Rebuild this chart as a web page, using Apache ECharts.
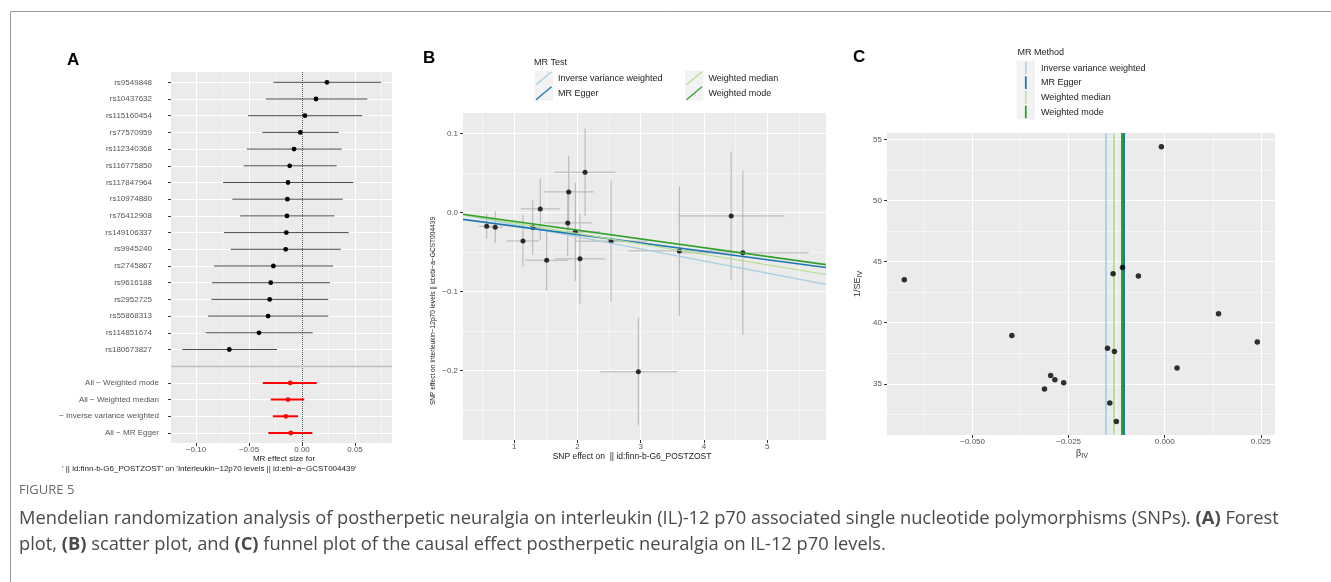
<!DOCTYPE html>
<html><head><meta charset="utf-8">
<script src="https://cdn.jsdelivr.net/npm/echarts@6/dist/echarts.min.js"></script>
<style>html,body{margin:0;padding:0;background:#fff}#c{width:1331px;height:582px}</style>
</head><body><div id="c"></div>
<script>
// ---------- Panel A: forest plot ----------
const snpNames = ['rs9549848','rs10437632','rs115160454','rs77570959','rs112340368','rs116775850','rs117847964','rs10974880','rs76412908','rs149106337','rs9945240','rs2745867','rs9616188','rs2952725','rs55868313','rs114851674','rs180673827'];
const snpEst = [0.0236,0.0132,0.0028,-0.0016,-0.0075,-0.0116,-0.0132,-0.0138,-0.0142,-0.0148,-0.0154,-0.0270,-0.0295,-0.0305,-0.0320,-0.0406,-0.0686];
const snpLo  = [-0.0270,-0.0340,-0.0510,-0.0374,-0.0520,-0.0550,-0.0745,-0.0657,-0.0582,-0.0736,-0.0673,-0.0830,-0.0849,-0.0855,-0.0887,-0.0909,-0.1130];
const snpHi  = [0.0745,0.0616,0.0569,0.0346,0.0374,0.0327,0.0484,0.0384,0.0305,0.0440,0.0365,0.0292,0.0264,0.0248,0.0248,0.0101,-0.0236];
const methodNames = ['All − Weighted mode','All − Weighted median','− Inverse variance weighted','All − MR Egger'];
const methodEst = [-0.0111,-0.0132,-0.0153,-0.0106];
const methodLo  = [-0.0370,-0.0295,-0.0276,-0.0318];
const methodHi  = [0.0139,0.0022,-0.0038,0.0097];
const eggerIntercept = -0.0065;
const aXTicks = [-0.10,-0.05,0.00,0.05];

// ---------- Panel B: scatter plot ----------
const bX    = [0.564,0.70,1.138,1.292,1.412,1.513,1.862,1.846,1.966,2.04,2.12,2.531,3.612,4.431,4.616,2.963];
const bY    = [-0.0172,-0.0185,-0.0358,-0.0188,0.0047,-0.0602,0.0262,-0.0130,-0.0244,-0.0585,0.0511,-0.0361,-0.0484,-0.0042,-0.0509,-0.2013];
const bXSe  = [0.12,0.12,0.258,0.18,0.31,0.34,0.395,0.38,0.39,0.39,0.48,0.57,0.805,0.845,1.04,0.612];
const bYSe  = [0.0158,0.020,0.0329,0.034,0.0389,0.0388,0.0457,0.0421,0.062,0.0577,0.0552,0.0765,0.082,0.0814,0.1037,0.0681];
const bXTicks = [1,2,3,4,5];
const bYTicks = [-0.2,-0.1,0.0,0.1];

// ---------- Panel C: funnel plot ----------
const cBeta  = [-0.0678,-0.01345,-0.0110,-0.00686,-0.00087,-0.0398,-0.0297,-0.0286,-0.0263,-0.0313,-0.0149,-0.0131,-0.0143,-0.0126,0.0032,0.0140,0.0241];
const cInvSE = [43.52,44.02,44.53,43.83,54.43,38.96,35.68,35.33,35.08,34.56,37.90,37.65,33.42,31.91,36.29,40.74,38.42];
const cXTicks = [-0.050,-0.025,0.000,0.025];
const cYTicks = [35,40,45,50,55];

const methodKeys = ['Inverse variance weighted','MR Egger','Weighted median','Weighted mode'];
const methodColors = {'Inverse variance weighted':'#A6CEE3','MR Egger':'#1F78B4','Weighted median':'#B2DF8A','Weighted mode':'#33A02C'};
const slopeOf = {'Inverse variance weighted':methodEst[2],'MR Egger':methodEst[3],'Weighted median':methodEst[1],'Weighted mode':methodEst[0]};
const interceptOf = {'Inverse variance weighted':0,'MR Egger':eggerIntercept,'Weighted median':0,'Weighted mode':0};

const SANS = '"Liberation Sans", Arial, Helvetica, sans-serif';
const CAP = '"Open Sans", "Noto Sans", sans-serif';
const minus = s => s.replace('-', '\u2212');
function tickFmt(ticks, f) {
  return function (v) {
    for (const t of ticks) { if (Math.abs(t - v) < 1e-6) return f(t); }
    return '';
  };
}
const labStyle = {fontSize: 8, color: '#555', fontFamily: SANS};
function valAxis(ticks, o) {
  return Object.assign({
    type: 'value',
    axisLine: {show: false, onZero: false},
    axisTick: {show: true, length: 3, customValues: ticks, lineStyle: {color: '#333', width: 1}},
    splitLine: {show: true, lineStyle: {color: '#FFFFFF', width: 1}},
    minorTick: {show: false, splitNumber: 2},
    minorSplitLine: {show: true, lineStyle: {color: '#FFFFFF', width: 0.5}},
  }, o);
}

const forestData = [];
const aRows = [];
snpNames.forEach((n, i) => { forestData.push([i, snpLo[i], snpEst[i], snpHi[i], 0]); aRows.push(i); });
methodNames.forEach((n, j) => { forestData.push([snpNames.length + 1 + j, methodLo[j], methodEst[j], methodHi[j], 1]); aRows.push(snpNames.length + 1 + j); });

const bErr = bX.map((x, i) => [x, bY[i], x - bXSe[i], x + bXSe[i], bY[i] - bYSe[i], bY[i] + bYSe[i]]);

const B_XMIN = 0.19, B_XMAX = 5.93;
const bLines = methodKeys.map(k => ({
  type: 'line', xAxisIndex: 1, yAxisIndex: 1, name: k, symbol: 'none', silent: true, clip: true, z: 6,
  lineStyle: {color: methodColors[k], width: (k === 'MR Egger' || k === 'Weighted mode') ? 1.6 : 1.2},
  data: [[B_XMIN, interceptOf[k] + slopeOf[k] * B_XMIN], [B_XMAX, interceptOf[k] + slopeOf[k] * B_XMAX]]
}));

function txt(x, y, text, o) {
  o = o || {};
  const st = {text, fill: o.color || '#222', fontSize: o.size || 9, fontFamily: o.family || SANS,
    fontWeight: o.weight || 'normal', align: o.align || 'left', verticalAlign: o.va || 'middle',
    textAlign: o.align || 'left', textVerticalAlign: o.va || 'middle'};
  if (o.rich) st.rich = o.rich;
  return {type: 'text', x, y, rotation: o.rot || 0, silent: true, z: 100, style: st};
}

const graphics = [];
graphics.push({type: 'polyline', silent: true, shape: {points: [[1340, 11.5], [10.5, 11.5], [10.5, 590]]}, style: {stroke: '#9a9a9a', lineWidth: 1, fill: null}});
graphics.push(txt(67, 60, 'A', {size: 17, weight: 'bold', color: '#000'}));
graphics.push(txt(423, 58.5, 'B', {size: 17, weight: 'bold', color: '#000'}));
graphics.push(txt(853, 57, 'C', {size: 17, weight: 'bold', color: '#000'}));
graphics.push(txt(284, 459, 'MR effect size for', {size: 8, align: 'center', color: '#222'}));
graphics.push(txt(62, 469, "' || id:finn-b-G6_POSTZOST' on 'Interleukin\u221212p70 levels || id:ebi\u2212a\u2212GCST004439'", {size: 8, color: '#222'}));
graphics.push(txt(632, 457, 'SNP effect on  || id:finn-b-G6_POSTZOST', {size: 8.5, align: 'center', color: '#222'}));
graphics.push(txt(433, 311, 'SNP effect on Interleukin\u221212p70 levels || id:ebi\u2212a\u2212GCST004439', {size: 6.6, align: 'center', rot: Math.PI / 2, color: '#222'}));
graphics.push(txt(1082, 454, '\u03b2{s|IV}', {size: 9, align: 'center', color: '#333', rich: {s: {fontSize: 7, fontFamily: SANS, fill: '#333', padding: [5, 0, 0, 0]}}}));
graphics.push(txt(858, 284, '1/SE{s|IV}', {size: 9, align: 'center', rot: Math.PI / 2, color: '#333', rich: {s: {fontSize: 7, fontFamily: SANS, fill: '#333', padding: [5, 0, 0, 0]}}}));

graphics.push(txt(534, 63, 'MR Test', {size: 9, color: '#222'}));
const bLegPos = [[534.5, 70.7], [534.5, 85.7], [685, 70.7], [685, 85.7]];
const bLegOrder = ['Inverse variance weighted', 'MR Egger', 'Weighted median', 'Weighted mode'];
bLegOrder.forEach((k, i) => {
  const [x, y] = bLegPos[i];
  graphics.push({type: 'rect', silent: true, shape: {x, y, width: 18.5, height: 15}, style: {fill: '#F2F2F2'}});
  graphics.push({type: 'line', silent: true, shape: {x1: x + 1.5, y1: y + 14, x2: x + 17, y2: y + 1}, style: {stroke: methodColors[k], lineWidth: 1.3}});
  graphics.push(txt(x + 23.5, y + 7.8, k, {size: 9, color: '#222'}));
});
graphics.push(txt(1017.5, 53, 'MR Method', {size: 9, color: '#222'}));
methodKeys.forEach((k, i) => {
  const y = 60.7 + i * 14.65;
  graphics.push({type: 'rect', silent: true, shape: {x: 1016.7, y, width: 18.3, height: 14.65}, style: {fill: '#F2F2F2'}});
  graphics.push({type: 'line', silent: true, shape: {x1: 1025.8, y1: y + 1, x2: 1025.8, y2: y + 13.6}, style: {stroke: methodColors[k], lineWidth: (k === 'MR Egger' || k === 'Weighted mode') ? 1.8 : 1.4}});
  graphics.push(txt(1041, y + 7.5, k, {size: 9, color: '#222'}));
});

graphics.push(txt(19, 490, 'FIGURE 5', {size: 13, family: CAP, color: '#6a6a6a'}));
const capRich = {b: {fontWeight: 'bold', fontSize: 18.3, fontFamily: CAP, fill: '#4a4a4a'}};
graphics.push(txt(19, 519, 'Mendelian randomization analysis of postherpetic neuralgia on interleukin (IL)-12 p70 associated single nucleotide polymorphisms (SNPs). {b|(A)} Forest', {size: 18.3, family: CAP, color: '#4a4a4a', rich: capRich}));
graphics.push(txt(19, 545, 'plot, {b|(B)} scatter plot, and {b|(C)} funnel plot of the causal effect postherpetic neuralgia on IL-12 p70 levels.', {size: 18.3, family: CAP, color: '#4a4a4a', rich: capRich}));

const gridBase = {show: true, backgroundColor: '#EBEBEB', borderWidth: 0, containLabel: false};

const option = {
  animation: false,
  backgroundColor: '#FFFFFF',
  textStyle: {fontFamily: SANS},
  grid: [
    Object.assign({left: 171, top: 72, width: 221, height: 371}, gridBase),
    Object.assign({left: 463, top: 113, width: 363, height: 327}, gridBase),
    Object.assign({left: 887, top: 133, width: 388, height: 302}, gridBase)
  ],
  xAxis: [
    valAxis(aXTicks, {gridIndex: 0, min: -0.1236, max: 0.0849, minInterval: 0.05, maxInterval: 0.05,
      axisLabel: Object.assign({margin: 3, formatter: tickFmt(aXTicks, v => minus(v.toFixed(2)))}, labStyle)}),
    valAxis(bXTicks, {gridIndex: 1, min: B_XMIN, max: B_XMAX, minInterval: 1, maxInterval: 1,
      axisLabel: Object.assign({margin: 3, formatter: tickFmt(bXTicks, v => String(v))}, labStyle)}),
    valAxis(cXTicks, {gridIndex: 2, min: -0.0723, max: 0.0287, minInterval: 0.025, maxInterval: 0.025,
      axisLabel: Object.assign({margin: 3, formatter: tickFmt(cXTicks, v => minus(v.toFixed(3)))}, labStyle)})
  ],
  yAxis: [
    valAxis(aRows, {gridIndex: 0, min: -0.617, max: 21.6, inverse: true, minInterval: 1, maxInterval: 1,
      minorSplitLine: {show: false},
      axisLabel: {margin: 5, fontSize: 8, color: '#555', fontFamily: SANS,
        formatter: function (v) {
          const i = Math.round(v);
          if (Math.abs(v - i) > 1e-6) return '';
          if (i >= 0 && i < snpNames.length) return '{s|' + snpNames[i] + '}';
          const j = i - snpNames.length - 1;
          if (j >= 0 && j < methodNames.length) return '{m|' + methodNames[j] + '}';
          return '';
        },
        rich: {s: {fontSize: 8, color: '#555', fontFamily: SANS, padding: [0, 14, 0, 0]},
               m: {fontSize: 8, color: '#555', fontFamily: SANS, padding: [0, 7, 0, 0]}}}}),
    valAxis(bYTicks, {gridIndex: 1, min: -0.2876, max: 0.126, minInterval: 0.1, maxInterval: 0.1,
      axisLabel: Object.assign({margin: 5, formatter: tickFmt(bYTicks, v => minus(v.toFixed(1)))}, labStyle)}),
    valAxis(cYTicks, {gridIndex: 2, min: 30.8, max: 55.55, minInterval: 5, maxInterval: 5,
      axisLabel: Object.assign({margin: 5, formatter: tickFmt(cYTicks, v => String(v))}, labStyle)})
  ],
  series: [
    {type: 'line', xAxisIndex: 0, yAxisIndex: 0, data: [], silent: true, z: 3,
      markLine: {symbol: 'none', silent: true, animation: false, precision: 8, label: {show: false},
        data: [
          {xAxis: 0, lineStyle: {type: 'dotted', color: '#555', width: 1}},
          {yAxis: snpNames.length, lineStyle: {type: 'solid', color: '#BEBEBE', width: 1.3}}
        ]}},
    {type: 'custom', xAxisIndex: 0, yAxisIndex: 0, z: 5, silent: true,
      encode: {x: [1, 2, 3], y: 0},
      data: forestData,
      renderItem: function (params, api) {
        const row = api.value(0), lo = api.value(1), est = api.value(2), hi = api.value(3), kind = api.value(4);
        const a = api.coord([lo, row]), b = api.coord([hi, row]), c = api.coord([est, row]);
        return {type: 'group', children: [
          {type: 'line', shape: {x1: a[0], y1: a[1], x2: b[0], y2: b[1]}, style: {stroke: kind ? '#FF0000' : '#4a4a4a', lineWidth: kind ? 2 : 1}},
          {type: 'circle', shape: {cx: c[0], cy: c[1], r: 2.4}, style: {fill: kind ? '#FF0000' : '#000'}}
        ]};
      }},
    {type: 'custom', xAxisIndex: 1, yAxisIndex: 1, z: 3, silent: true, clip: true,
      encode: {x: [0, 2, 3], y: [1, 4, 5]},
      data: bErr,
      renderItem: function (params, api) {
        const x = api.value(0), y = api.value(1);
        const h1 = api.coord([api.value(2), y]), h2 = api.coord([api.value(3), y]);
        const v1 = api.coord([x, api.value(4)]), v2 = api.coord([x, api.value(5)]);
        return {type: 'group', children: [
          {type: 'line', shape: {x1: h1[0], y1: h1[1], x2: h2[0], y2: h2[1]}, style: {stroke: '#B4B4B4', lineWidth: 1}},
          {type: 'line', shape: {x1: v1[0], y1: v1[1], x2: v2[0], y2: v2[1]}, style: {stroke: '#B4B4B4', lineWidth: 1}}
        ]};
      }},
    {type: 'scatter', xAxisIndex: 1, yAxisIndex: 1, z: 4, silent: true, symbolSize: 5,
      itemStyle: {color: '#000'}, data: bX.map((x, i) => [x, bY[i]])},
    ...bLines,
    {type: 'scatter', xAxisIndex: 2, yAxisIndex: 2, z: 5, silent: true, symbolSize: 5.5,
      itemStyle: {color: '#000'}, data: cBeta.map((b, i) => [b, cInvSE[i]]),
      markLine: {symbol: 'none', silent: true, animation: false, precision: 8, label: {show: false},
        data: methodKeys.map(k => ({xAxis: slopeOf[k], lineStyle: {type: 'solid', color: methodColors[k], width: (k === 'MR Egger' || k === 'Weighted mode') ? 2 : 1.7}}))}}
  ],
  graphic: {elements: graphics}
};
const chart = echarts.init(document.getElementById('c'), null, {renderer: 'canvas'});
chart.setOption(option);
</script>
</body></html>
